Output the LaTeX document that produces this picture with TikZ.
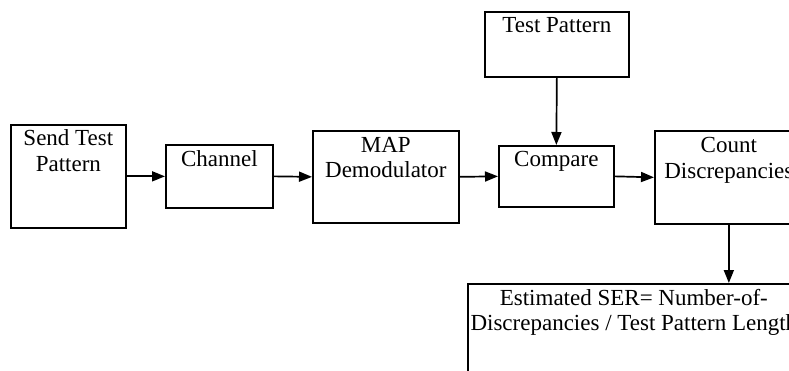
\documentclass[tikz,border=0pt]{standalone}
\usepackage{fontspec}
\setmainfont{Liberation Serif}
\usetikzlibrary{arrows.meta,calc}
\tikzset{
  blk/.style={draw=black, line width=1.7pt, fill=white, rectangle, inner sep=0pt, anchor=north west},
  lbl/.style={font=\fontsize{23}{25.5}\selectfont, align=center, inner sep=0pt, anchor=base},
  flow/.style={line width=1.7pt, -{Triangle[length=13pt,width=10pt]}}
}
\begin{document}
\begin{tikzpicture}[x=1pt,y=-1pt]
  \useasboundingbox (0,0) rectangle (789,371);
  \clip (0,0) rectangle (789,371);
  % blocks
  \node[blk, minimum width=115pt, minimum height=103pt] (send) at (10,124) {};
  \node[blk, minimum width=107pt, minimum height=63pt]  (chan) at (165,144) {};
  \node[blk, minimum width=146pt, minimum height=92pt]  (map)  at (312,130) {};
  \node[blk, minimum width=115pt, minimum height=61pt]  (cmp)  at (498,145) {};
  \node[blk, minimum width=144pt, minimum height=65pt]  (tpat) at (484,11) {};
  \node[blk, minimum width=148pt, minimum height=93pt]  (cnt)  at (654,130) {};
  \node[blk, minimum width=332pt, minimum height=130pt] (ser)  at (467,283) {};
  % labels (base anchor sits on the last line's baseline)
  \node[lbl] (sendt) at ($(send.north)+(0,47.5)$) {Send Test\\Pattern};
  \node[lbl] (chant) at ($(chan.north)+(0,23)$)   {Channel};
  \node[lbl] (mapt)  at ($(map.north)+(0,48)$)    {MAP\\Demodulator};
  \node[lbl] (cmpt)  at ($(cmp.north)+(0,22)$)    {Compare};
  \node[lbl] (tpatt) at ($(tpat.north)+(0,22)$)   {Test Pattern};
  \node[lbl] (cntt)  at ($(cnt.north)+(0,48.5)$)  {Count\\Discrepancies};
  \node[lbl] (sert)  at ($(ser.north)+(0,47.5)$)  {Estimated SER= Number-of-\\Discrepancies / Test Pattern Length};
  % connectors
  \draw[flow] (send.east) -- (chan.west);
  \draw[flow] (chan.east) -- (map.west);
  \draw[flow] (map.east) -- (cmp.west);
  \draw[flow] (cmp.east) -- (cnt.west);
  \draw[flow] (tpat.south) -- (cmp.north);
  \draw[flow] (cnt.south) -- (cnt.south |- ser.north);
\end{tikzpicture}
\end{document}
